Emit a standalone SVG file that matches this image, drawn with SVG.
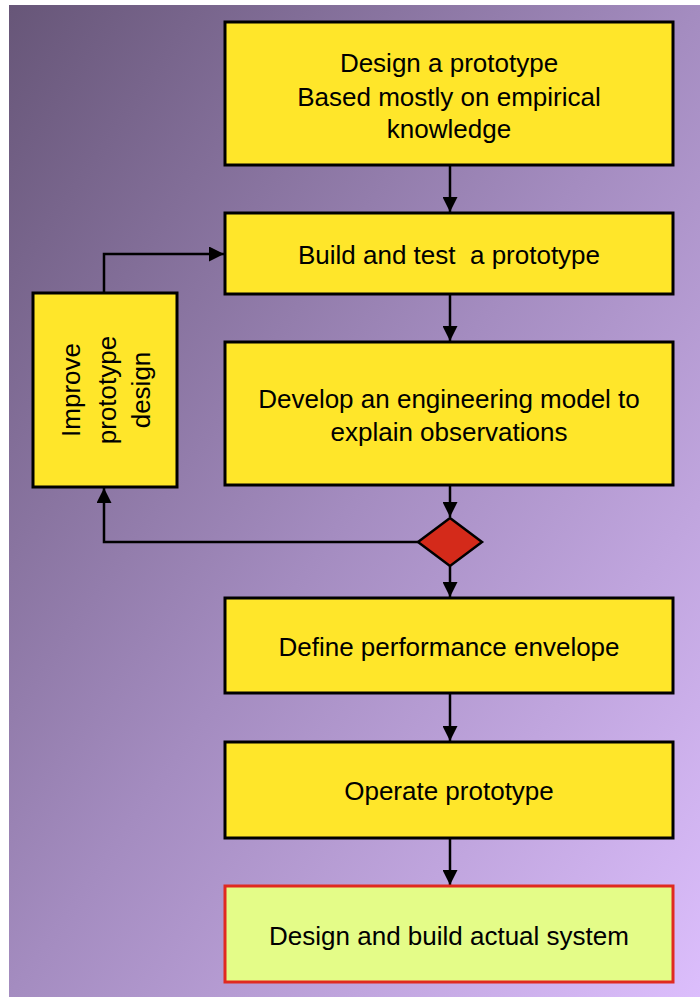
<svg xmlns="http://www.w3.org/2000/svg" width="700" height="997" viewBox="0 0 700 997">
<defs>
<linearGradient id="bg" x1="0" y1="0" x2="1" y2="1">
<stop offset="0" stop-color="#675678"/>
<stop offset="0.5" stop-color="#a48cc0"/>
<stop offset="1" stop-color="#dcbefc"/>
</linearGradient>
<marker id="ah" markerWidth="15" markerHeight="15" viewBox="0 0 15 15" refX="15" refY="7.5" orient="auto" markerUnits="userSpaceOnUse">
<path d="M0,0 L15,7.5 L0,15 z" fill="#000"/>
</marker>
<style>
.box{fill:#ffe62a;stroke:#000;stroke-width:3}
.fin{fill:#e4fc88;stroke:#e02a20;stroke-width:3}
.t{font-family:"Liberation Sans",Arial,sans-serif;font-size:26px;fill:#000;text-anchor:middle}
.c{fill:none;stroke:#000;stroke-width:2.5}
</style>
</defs>
<rect x="9" y="5" width="691" height="992" fill="url(#bg)"/>
<g id="connectors">
<line class="c" x1="450" y1="165" x2="450" y2="212" marker-end="url(#ah)"/>
<line class="c" x1="450" y1="294" x2="450" y2="341" marker-end="url(#ah)"/>
<line class="c" x1="450" y1="485" x2="450" y2="517" marker-end="url(#ah)"/>
<line class="c" x1="450" y1="566" x2="450" y2="597" marker-end="url(#ah)"/>
<line class="c" x1="450" y1="693" x2="450" y2="741" marker-end="url(#ah)"/>
<line class="c" x1="450" y1="838" x2="450" y2="885" marker-end="url(#ah)"/>
<polyline class="c" points="418,542 104,542 104,488" marker-end="url(#ah)"/>
<polyline class="c" points="104,293 104,254 224,254" marker-end="url(#ah)"/>
</g>
<g id="n1"><rect class="box" x="225" y="22" width="448" height="143"/>
<text class="t" x="449" y="72">Design a prototype</text>
<text class="t" x="449" y="106">Based mostly on empirical</text>
<text class="t" x="449" y="138">knowledge</text></g>
<g id="n2"><rect class="box" x="225" y="213" width="448" height="81"/>
<text class="t" x="449" y="264" xml:space="preserve">Build and test  a prototype</text></g>
<g id="n3"><rect class="box" x="225" y="342" width="448" height="143"/>
<text class="t" x="449" y="408">Develop an engineering model to</text>
<text class="t" x="449" y="441">explain observations</text></g>
<g id="decision"><polygon points="450,518 482,542 450,566 418,542" fill="#d42a1a" stroke="#000" stroke-width="2.5"/></g>
<g id="n4"><rect class="box" x="225" y="598" width="448" height="95"/>
<text class="t" x="449" y="656">Define performance envelope</text></g>
<g id="n5"><rect class="box" x="225" y="742" width="448" height="96"/>
<text class="t" x="449" y="800">Operate prototype</text></g>
<g id="n6"><rect class="fin" x="225" y="886" width="448" height="96"/>
<text class="t" x="449" y="945">Design and build actual system</text></g>
<g id="left"><rect class="box" x="33" y="293" width="144" height="194"/>
<g transform="translate(105,390) rotate(-90)">
<text class="t" x="0" y="-25.5">Improve</text>
<text class="t" x="0" y="10.5">prototype</text>
<text class="t" x="0" y="44.5">design</text>
</g></g>
</svg>
